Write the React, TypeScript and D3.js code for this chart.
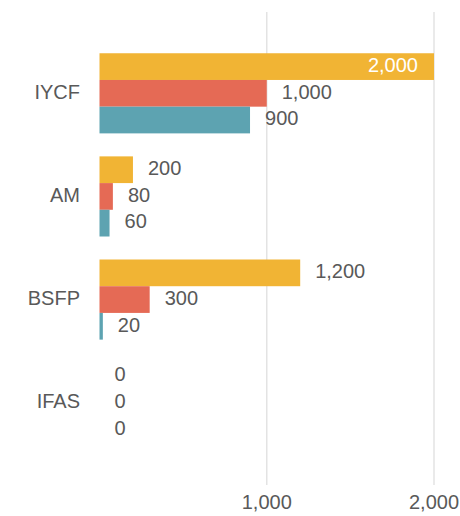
import React from "react";
import * as d3 from "d3";

const categories = ["IYCF", "AM", "BSFP", "IFAS"];
const seriesNames = ["Series A", "Series B", "Series C"];
const seriesA = [2000, 200, 1200, 0];
const seriesB = [1000, 80, 300, 0];
const seriesC = [900, 60, 20, 0];
const tickValues = [1000, 2000];
const colors = ["#F1B434", "#E56A55", "#5DA3B1"];

const W = 460;
const H = 516;

export default function App() {
  const series = [seriesA, seriesB, seriesC];
  const x = d3.scaleLinear().domain([0, 2000]).range([99.5, 434]);
  const y = d3
    .scaleBand<string>()
    .domain(categories)
    .range([12, 484])
    .paddingInner(0.223)
    .paddingOuter(0.4);
  const sub = d3
    .scaleBand<string>()
    .domain(seriesNames)
    .range([0, y.bandwidth()]);
  const fmt = d3.format(",");
  const textColor = "#595959";
  const font = "Arial, 'Liberation Sans', sans-serif";

  return (
    <svg
      width={W}
      height={H}
      style={{ position: "absolute", left: 0, top: 0, background: "#fff" }}
      fontFamily={font}
    >
      {tickValues.map((t) => (
        <g key={t}>
          <line
            x1={x(t)}
            x2={x(t)}
            y1={12}
            y2={485}
            stroke="#e3e3e3"
            strokeWidth={1.5}
          />
          <text
            x={x(t)}
            y={504}
            textAnchor="middle"
            dominantBaseline="middle"
            fontSize={20}
            fill={textColor}
          >
            {fmt(t)}
          </text>
        </g>
      ))}
      {categories.map((c, ci) => (
        <g key={c}>
          <text
            x={80}
            y={(y(c) ?? 0) + y.bandwidth() / 2}
            textAnchor="end"
            dominantBaseline="middle"
            fontSize={20}
            fill={textColor}
          >
            {c}
          </text>
          {series.map((s, si) => {
            const v = s[ci];
            const y0 = (y(c) ?? 0) + (sub(seriesNames[si]) ?? 0);
            const bw = sub.bandwidth();
            const xEnd = x(v);
            const inside = v >= 2000;
            return (
              <g key={si}>
                {v > 0 && (
                  <rect
                    x={x(0)}
                    y={y0}
                    width={xEnd - x(0)}
                    height={bw}
                    fill={colors[si]}
                  />
                )}
                <text
                  x={inside ? xEnd - 16 : xEnd + 15}
                  y={y0 + bw / 2}
                  textAnchor={inside ? "end" : "start"}
                  dominantBaseline="middle"
                  fontSize={20}
                  fill={inside ? "#ffffff" : textColor}
                >
                  {fmt(v)}
                </text>
              </g>
            );
          })}
        </g>
      ))}
    </svg>
  );
}
